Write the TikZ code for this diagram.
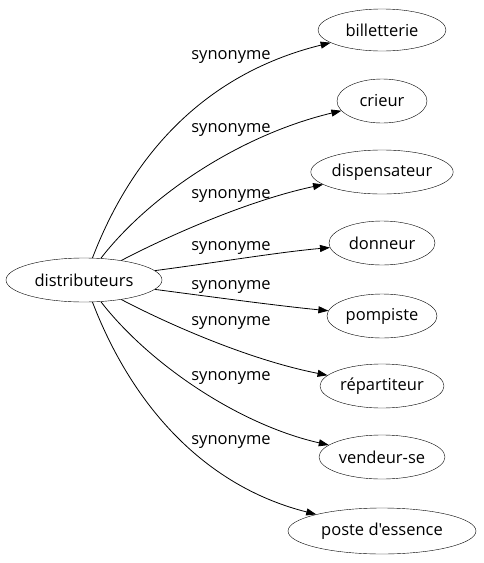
\documentclass[tikz,border=0pt]{standalone}
\usepackage{fontspec}
\setmainfont{Open Sans}[Ligatures=TeXOff]
\usetikzlibrary{arrows.meta,shapes.geometric}
\begin{document}
\begin{tikzpicture}[x=1pt,y=-1pt,
  term/.style={draw, ellipse, minimum height=44pt, inner sep=0pt, font=\fontsize{16.5}{18}\selectfont},
  rel/.style={-{Triangle[length=10pt,width=7pt]}, line width=0.8pt},
  lab/.style={font=\fontsize{16.5}{18}\selectfont, inner sep=0pt}]
\useasboundingbox (0,0) rectangle (484,563);
\node[term, minimum width=156pt] (d) at (84,280) {distributeurs};
\node[term, minimum width=128pt, minimum height=42pt] (n1) at (382,30) {billetterie};
\node[term, minimum width=90pt] (n2) at (382,101) {crieur};
\node[term, minimum width=142pt] (n3) at (382,172) {dispensateur};
\node[term, minimum width=106pt] (n4) at (382,243) {donneur};
\node[term, minimum width=110pt] (n5) at (382,316) {pompiste};
\node[term, minimum width=124pt] (n6) at (382,386) {répartiteur};
\node[term, minimum width=126pt] (n7) at (382,457) {vendeur-se};
\node[term, minimum width=188pt, minimum height=46pt] (n8) at (382,531) {poste d'essence};
\draw[rel] (d) .. controls (130,160) and (200,75) .. (n1);
\draw[rel] (d) .. controls (150,195) and (240,135) .. (n2);
\draw[rel] (d) .. controls (170,235) and (250,200) .. (n3);
\draw[rel] (d) .. controls (220,262) and (280,252) .. (n4);
\draw[rel] (d) .. controls (220,298) and (280,306) .. (n5);
\draw[rel] (d) .. controls (170,325) and (250,360) .. (n6);
\draw[rel] (d) .. controls (150,365) and (240,425) .. (n7);
\draw[rel] (d) .. controls (130,400) and (200,485) .. (n8);
\node[lab] (l1) at (231,57) {synonyme};
\node[lab] (l2) at (231,130) {synonyme};
\node[lab] (l3) at (231,196) {synonyme};
\node[lab] (l4) at (231,248) {synonyme};
\node[lab] (l5) at (231,287) {synonyme};
\node[lab] (l6) at (231,323) {synonyme};
\node[lab] (l7) at (231,378) {synonyme};
\node[lab] (l8) at (231,442) {synonyme};
\end{tikzpicture}
\end{document}
